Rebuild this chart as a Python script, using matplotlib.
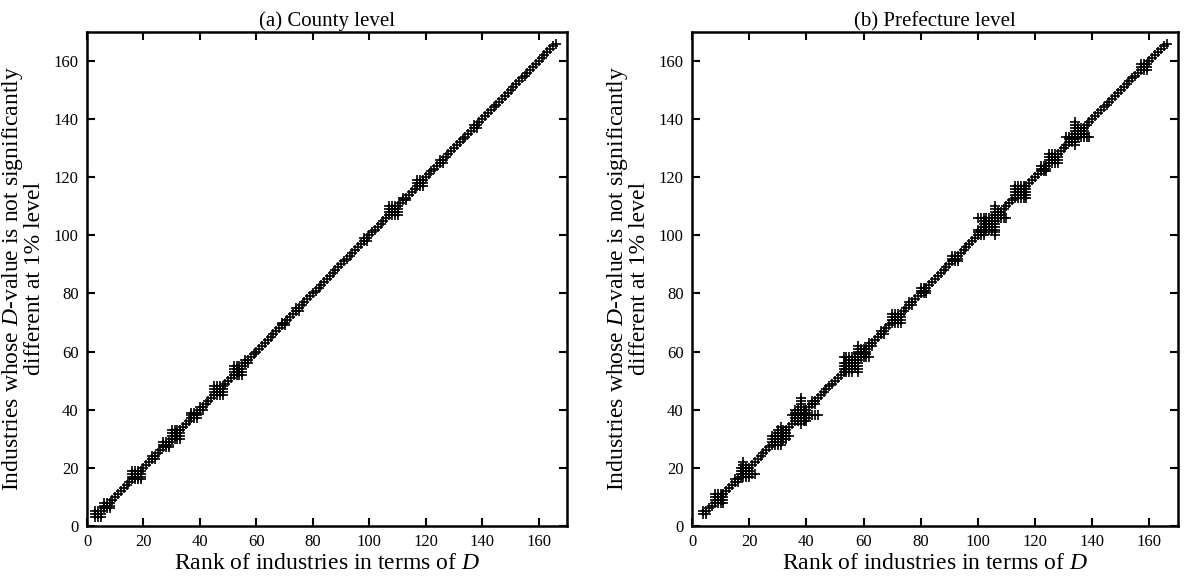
import matplotlib.pyplot as plt

plt.rcParams['font.family'] = ['Liberation Serif', 'DejaVu Serif']
plt.rcParams['mathtext.fontset'] = 'custom'
plt.rcParams['mathtext.it'] = 'Liberation Serif:italic'
plt.rcParams['mathtext.rm'] = 'Liberation Serif'

# ranks covered by each panel
first_rank = [3, 4]
last_rank = [166, 166]

# blocks of ranks whose D-values are mutually not significantly different
county_blocks = [(3, 5), (6, 8), (16, 19), (23, 24), (27, 29), (30, 33),
                 (37, 39), (40, 41), (45, 48), (52, 55), (56, 57), (69, 70),
                 (74, 75), (98, 99), (107, 110), (112, 113), (117, 119),
                 (125, 126), (137, 138)]
pref_blocks = [(4, 5), (8, 11), (15, 16), (17, 20), (28, 31), (30, 33),
               (36, 40), (42, 43), (53, 56), (55, 58), (58, 61), (62, 63),
               (66, 67), (70, 73), (76, 77), (80, 82), (91, 93), (100, 102),
               (102, 106), (106, 108), (113, 117), (122, 124), (125, 128),
               (132, 134), (134, 137), (157, 159)]
# single industries tied with a wider range of ranks: (rank, low, high)
county_spans = []
pref_spans = [(18, 17, 22), (31, 28, 34), (38, 35, 44), (58, 53, 62),
              (106, 100, 110), (134, 131, 139)]

titles = ['(a) County level', '(b) Prefecture level']


def tie_points(lo_r, hi_r, blocks, spans):
    pts = set((r, r) for r in range(lo_r, hi_r + 1))
    for a, b in blocks:
        for i in range(a, b + 1):
            for j in range(a, b + 1):
                pts.add((i, j))
    for r, a, b in spans:
        for k in range(a, b + 1):
            pts.add((r, k))
            pts.add((k, r))
    pts = sorted(pts)
    return [p[0] for p in pts], [p[1] for p in pts]


fig = plt.figure(figsize=(11.87, 5.85), dpi=100)
axes = [fig.add_axes([0.0733, 0.101, 0.4044, 0.8444]),
        fig.add_axes([0.583, 0.101, 0.4094, 0.8444])]
panels = [(county_blocks, county_spans), (pref_blocks, pref_spans)]

for k, ax in enumerate(axes):
    xs, ys = tie_points(first_rank[k], last_rank[k], *panels[k])
    ax.plot(xs, ys, linestyle='none', marker='+', color='black',
            markersize=7.5, markeredgewidth=1.2)
    ax.set_xlim(0, 170)
    ax.set_ylim(0, 170)
    ax.set_xticks(range(0, 161, 20))
    ax.set_yticks(range(0, 161, 20))
    ax.tick_params(direction='in', length=6, width=1.5, top=True, right=True,
                   labelsize=12, pad=6)
    for s in ax.spines.values():
        s.set_linewidth(1.8)
    ax.set_title(titles[k], fontsize=15, pad=4)
    ax.set_xlabel('Rank of industries in terms of $\\mathit{D}$', fontsize=17,
                  labelpad=2)
    ax.set_ylabel('Industries whose $\\mathit{D}$-value is not significantly\n'
                  'different at 1% level', fontsize=17, labelpad=6,
                  linespacing=0.95)

fig.savefig('out.png', dpi=100)
